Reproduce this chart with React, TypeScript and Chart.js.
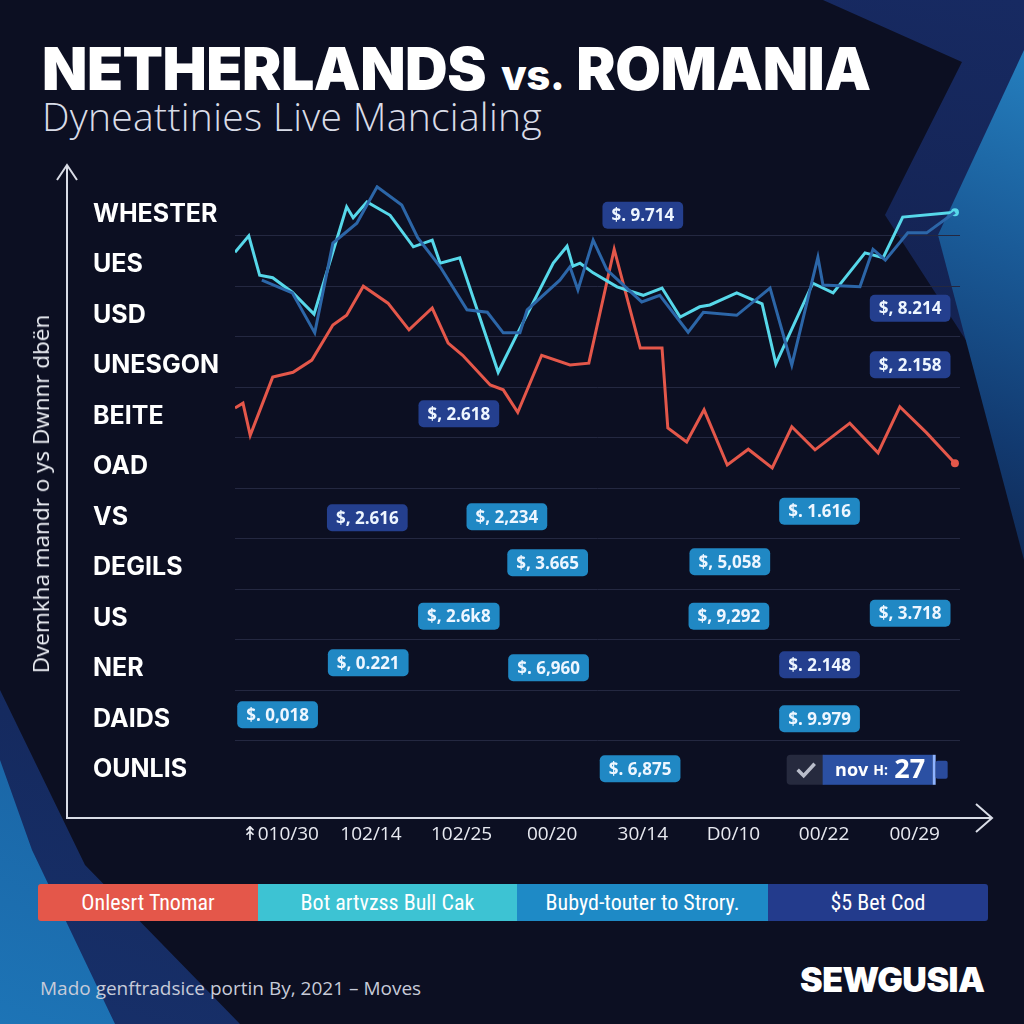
import React, { useEffect, useRef } from "react";
import { Chart, registerables } from "chart.js";

Chart.register(...registerables);

// ---------- data ----------
const rowLabels = ["WHESTER", "UES", "USD", "UNESGON", "BEITE", "OAD", "VS", "DEGILS", "US", "NER", "DAIDS", "OUNLIS"];
const dateLabels = ["↟010/30", "102/14", "102/25", "00/20", "30/14", "D0/10", "00/22", "00/29"];

const cyanX = [0, 1.9, 3.4, 5.2, 7.9, 10.9, 15.4, 16.3, 18.2, 21.4, 24.6, 27.2, 28.3, 31.0, 36.3, 39.0, 43.9, 45.8, 46.6, 47.6, 49.4, 52.7, 56.3, 58.9, 61.4, 64.1, 65.5, 69.2, 72.7, 74.6, 79.7, 82.5, 86.9, 89.4, 92.1, 99.3];
const cyanY = [88.9, 91.6, 85.1, 84.7, 82.3, 78.7, 96.4, 94.6, 97.2, 95.0, 89.8, 90.9, 87.1, 88.0, 69.1, 75.6, 87.1, 89.9, 86.6, 87.1, 85.5, 83.2, 81.8, 83.0, 78.2, 79.9, 80.2, 82.2, 80.4, 70.5, 83.8, 82.2, 88.8, 88.0, 94.7, 95.5];

const steelX = [3.7, 7.9, 11.0, 13.5, 16.8, 19.6, 23.0, 25.2, 28.3, 32.0, 34.8, 37.0, 39.3, 40.3, 44.8, 46.2, 47.3, 49.4, 51.3, 56.1, 58.6, 62.5, 64.6, 69.2, 73.8, 76.8, 80.4, 81.1, 86.2, 88.0, 89.7, 92.8, 95.4, 99.3];
const steelY = [84.3, 82.2, 75.6, 90.4, 93.7, 99.7, 96.7, 91.3, 86.5, 79.4, 79.0, 75.6, 75.6, 79.4, 84.3, 86.5, 82.7, 90.9, 86.0, 80.7, 81.8, 75.7, 79.0, 78.5, 83.0, 70.3, 88.1, 83.5, 83.2, 89.4, 87.6, 92.1, 92.1, 95.5];

const redX = [0, 1.1, 2.1, 5.2, 8.0, 10.6, 13.5, 15.4, 17.7, 21.1, 24.0, 27.2, 29.4, 31.4, 35.2, 37.0, 39.0, 42.3, 46.2, 48.8, 52.3, 55.9, 58.9, 59.7, 62.3, 64.7, 67.9, 70.8, 74.1, 76.8, 80.0, 84.8, 88.7, 91.7, 95.4, 99.3];
const redY = [63.2, 64.0, 58.7, 68.3, 69.1, 71.1, 76.9, 78.5, 83.3, 80.5, 76.1, 79.7, 73.9, 71.9, 67.0, 66.2, 62.5, 71.9, 70.3, 70.6, 89.4, 73.1, 73.1, 59.9, 57.6, 62.9, 53.8, 56.4, 53.3, 60.1, 56.3, 60.7, 55.8, 63.4, 59.1, 54.1];

const badgeTexts = ["$. 9.714", "$, 8.214", "$, 2.158", "$, 2.618", "$, 2.616", "$, 2,234", "$, 3.665", "$, 2.6k8", "$, 0.221", "$. 6,960", "$. 0,018", "$. 1.616", "$, 5,058", "$, 9,292", "$, 3.718", "$. 2.148", "$. 9.979", "$. 6,875"];
const badgeCols = [4, 6.95, 6.95, 1.97, 0.96, 2.5, 2.95, 1.97, 0.97, 2.96, -0.03, 5.95, 4.96, 4.95, 6.95, 5.95, 5.95, 3.97];
const badgeRows = [0.1, 1.94, 3.06, 4.03, 6.09, 6.07, 6.98, 8.04, 8.96, 9.06, 9.99, 5.96, 6.96, 8.04, 7.98, 9.0, 10.07, 11.06];
const badgeDark = [true, true, true, true, true, false, false, false, false, false, false, false, false, false, false, true, false, false];

const novText = ["nov", "H:", "27"];
const novCol = 6.47;
const novRow = 11.08;

const legendItems = ["Onlesrt Tnomar", "Bot artvzss Bull Cak", "Bubyd-touter to Strory.", "$5 Bet Cod"];
const legendColors = ["#e4574a", "#3dc3d3", "#1e8ac6", "#233b8c"];
const legendWidths = [220, 259, 251, 220];

// ---------- plugins ----------
const badgePlugin = {
  id: "badges",
  afterDatasetsDraw(chart: any) {
    const ctx = chart.ctx;
    const xs = chart.scales.xc;
    const ys = chart.scales.yc;
    ctx.save();
    ctx.font = "700 17px 'Open Sans', sans-serif";
    ctx.textAlign = "center";
    ctx.textBaseline = "middle";
    badgeTexts.forEach((t, i) => {
      const cx = xs.getPixelForValue(badgeCols[i]);
      const cy = ys.getPixelForValue(badgeRows[i]);
      const w = Math.max(78, ctx.measureText(t).width + 18);
      const h = 27;
      ctx.fillStyle = badgeDark[i] ? "#243f8e" : "#2088c4";
      ctx.beginPath();
      ctx.roundRect(cx - w / 2, cy - h / 2, w, h, 5);
      ctx.fill();
      ctx.fillStyle = "#eef6ff";
      ctx.fillText(t, cx, cy + 1);
    });
    // nov badge
    const ncx = xs.getPixelForValue(novCol);
    const ncy = ys.getPixelForValue(novRow);
    const left = ncx - 80;
    const top = ncy - 15;
    const h = 30;
    ctx.fillStyle = "#262a3e";
    ctx.beginPath();
    ctx.roundRect(left, top, 40, h, 4);
    ctx.fill();
    ctx.fillStyle = "#2b50a3";
    ctx.fillRect(left + 36, top, 110, h);
    ctx.fillStyle = "#8fb4ff";
    ctx.fillRect(left + 146, top, 3, h);
    ctx.fillStyle = "#2a4b9c";
    ctx.beginPath();
    ctx.roundRect(left + 149, top + 6, 12, 18, 2);
    ctx.fill();
    ctx.strokeStyle = "#b9bdca";
    ctx.lineWidth = 3.5;
    ctx.beginPath();
    ctx.moveTo(left + 11, ncy);
    ctx.lineTo(left + 17, ncy + 6);
    ctx.lineTo(left + 28, ncy - 6);
    ctx.stroke();
    ctx.fillStyle = "#ffffff";
    ctx.font = "700 18px 'Open Sans', sans-serif";
    ctx.fillText(novText[0], left + 65, ncy + 1);
    ctx.font = "700 14px 'Open Sans', sans-serif";
    ctx.fillText(novText[1], left + 94, ncy + 1);
    ctx.font = "700 27px 'Open Sans', sans-serif";
    ctx.fillText(novText[2], left + 123, ncy + 1);
    ctx.restore();
  },
};

const arrowPlugin = {
  id: "arrows",
  afterDraw(chart: any) {
    const { ctx, chartArea } = chart;
    const ax = chartArea.left - 168;
    const topY = chartArea.top - 20;
    const botY = chartArea.bottom + 27;
    const rightX = chartArea.right + 32;
    ctx.save();
    ctx.strokeStyle = "#d9dce6";
    ctx.lineWidth = 2;
    ctx.beginPath();
    ctx.moveTo(ax, topY);
    ctx.lineTo(ax, botY);
    ctx.lineTo(rightX, botY);
    ctx.stroke();
    ctx.beginPath();
    ctx.moveTo(ax - 10, topY + 15);
    ctx.lineTo(ax, topY);
    ctx.lineTo(ax + 10, topY + 15);
    ctx.stroke();
    ctx.beginPath();
    ctx.moveTo(rightX - 16, botY - 14);
    ctx.lineTo(rightX, botY);
    ctx.lineTo(rightX - 16, botY + 14);
    ctx.stroke();
    ctx.restore();
  },
};

const toPts = (xs: number[], ys: number[]) => xs.map((x, i) => ({ x, y: ys[i] }));
const lastDot = (n: number) => (c: any) => (c.dataIndex === n - 1 ? 4 : 0);

export default function App() {
  const ref = useRef<HTMLCanvasElement>(null);

  useEffect(() => {
    const chart = new Chart(ref.current as HTMLCanvasElement, {
      type: "line",
      data: {
        datasets: [
          {
            data: toPts(steelX, steelY),
            borderColor: "#2c66a8",
            borderWidth: 3,
            pointRadius: 0,
            tension: 0,
          },
          {
            data: toPts(cyanX, cyanY),
            borderColor: "#57d8ea",
            backgroundColor: "#57d8ea",
            borderWidth: 3,
            pointRadius: lastDot(cyanX.length),
            pointBorderWidth: 0,
            tension: 0,
          },
          {
            data: toPts(redX, redY),
            borderColor: "#e4574a",
            backgroundColor: "#e4574a",
            borderWidth: 3,
            pointRadius: lastDot(redX.length),
            pointBorderWidth: 0,
            tension: 0,
          },
        ],
      } as any,
      options: {
        animation: false,
        responsive: false,
        maintainAspectRatio: false,
        layout: { padding: { left: 93, right: 64, top: 35, bottom: 0 } },
        plugins: { legend: { display: false }, tooltip: { enabled: false } },
        scales: {
          x: { type: "linear", min: 0, max: 100, display: false },
          y: { type: "linear", min: 0, max: 100, display: false },
          xc: {
            type: "category",
            labels: dateLabels,
            position: "bottom",
            offset: true,
            grid: { display: false, drawTicks: false },
            border: { display: false },
            ticks: {
              color: "#e8eaf1",
              font: { family: "'Open Sans', sans-serif", size: 19, weight: "500" },
              padding: 32,
              autoSkip: false,
              maxRotation: 0,
            },
            afterFit: (s: any) => {
              s.height = 80;
            },
          },
          yc: {
            type: "category",
            labels: rowLabels,
            position: "left",
            offset: true,
            grid: {
              offset: true,
              drawTicks: false,
              lineWidth: 1,
              color: (c: any) => (c.type === "tick" && c.index > 0 ? "#242841" : "rgba(0,0,0,0)"),
            },
            border: { display: false },
            ticks: {
              color: "#ffffff",
              crossAlign: "far",
              font: { family: "Inter, sans-serif", size: 25, weight: "700" },
              autoSkip: false,
              padding: 0,
              labelOffset: 4,
            },
            afterFit: (s: any) => {
              s.width = 142;
            },
          },
        },
      } as any,
      plugins: [badgePlugin, arrowPlugin],
    });
    return () => chart.destroy();
  }, []);

  const abs: React.CSSProperties = { position: "absolute" };
  const full: React.CSSProperties = { position: "absolute", left: 0, top: 0, width: 1024, height: 1024 };

  return (
    <div
      style={{
        position: "fixed",
        left: 0,
        top: 0,
        width: 1024,
        height: 1024,
        background: "#0c0f22",
        overflow: "hidden",
        fontFamily: "'Open Sans', sans-serif",
      }}
    >
      {/* decorative shapes */}
      <div
        style={{
          ...full,
          clipPath: "polygon(823px 0, 1024px 0, 1024px 430px, 885px 215px, 962px 62px)",
          background: "linear-gradient(190deg, #172a62 0%, #13214e 35%, #0e1430 60%, #0c0f22 80%)",
        }}
      />
      <div
        style={{
          ...full,
          clipPath: "polygon(1024px 50px, 1024px 560px, 938px 235px)",
          background: "linear-gradient(200deg, #2788c8 0%, #1a5b98 18%, #123a70 32%, #0e1f45 46%, #0c0f22 58%)",
        }}
      />
      <div
        style={{
          ...full,
          clipPath: "polygon(0 690px, 0 1024px, 240px 1024px, 85px 865px)",
          background: "linear-gradient(20deg, #17306a 0%, #132454 45%, #0d1228 85%)",
        }}
      />
      <div
        style={{
          ...full,
          clipPath: "polygon(0 760px, 0 1024px, 115px 1024px, 32px 850px)",
          background: "linear-gradient(20deg, #1d74b6 0%, #185593 45%, #112c5c 85%)",
        }}
      />

      {/* title */}
      <div
        style={{
          ...abs,
          left: 42,
          top: 39,
          whiteSpace: "nowrap",
          color: "#ffffff",
          fontFamily: "Inter, sans-serif",
          fontWeight: 900,
          fontSize: 59,
          lineHeight: "59px",
          letterSpacing: -0.5,
        }}
      >
        NETHERLANDS<span style={{ fontSize: 42, fontWeight: 800, margin: "0 12px 0 15px" }}>vs.</span>ROMANIA
      </div>
      <div
        style={{
          ...abs,
          left: 42,
          top: 97,
          whiteSpace: "nowrap",
          color: "#d9dce7",
          fontWeight: 300,
          fontSize: 39,
          lineHeight: "38px",
          letterSpacing: 0.3,
        }}
      >
        Dyneattinies Live Mancialing
      </div>

      <canvas
        ref={ref}
        width={1024}
        height={721}
        style={{ ...abs, left: 0, top: 150, width: 1024, height: 721 }}
      />

      {/* y axis title */}
      <div
        style={{
          ...abs,
          left: 41,
          top: 494,
          transform: "translate(-50%, -50%) rotate(-90deg)",
          whiteSpace: "nowrap",
          color: "#eef0f6",
          fontSize: 22.5,
          lineHeight: "26px",
        }}
      >
        Dvemkha mandr o ys Dwnnr dbën
      </div>

      {/* legend bar */}
      <div
        style={{
          ...abs,
          left: 38,
          top: 884,
          height: 37,
          display: "flex",
          borderRadius: 3,
          overflow: "hidden",
        }}
      >
        {legendItems.map((t, i) => (
          <div
            key={t}
            style={{
              width: legendWidths[i],
              height: 37,
              background: legendColors[i],
              color: "#ffffff",
              display: "flex",
              alignItems: "center",
              justifyContent: "center",
              fontFamily: "'Roboto Condensed', 'Liberation Sans Narrow', Roboto, sans-serif",
              fontSize: 22,
              fontWeight: 400,
              whiteSpace: "nowrap",
            }}
          >
            {t}
          </div>
        ))}
      </div>

      {/* footer */}
      <div
        style={{
          ...abs,
          left: 40,
          top: 975,
          whiteSpace: "nowrap",
          color: "#c7cbd9",
          fontSize: 19,
          lineHeight: "26px",
        }}
      >
        Mado genftradsice portin By, 2021 – Moves
      </div>
      <div
        style={{
          ...abs,
          left: 800,
          top: 963,
          whiteSpace: "nowrap",
          color: "#ffffff",
          fontFamily: "Inter, sans-serif",
          fontWeight: 900,
          fontSize: 34,
          lineHeight: "34px",
          letterSpacing: -0.5,
        }}
      >
        SEWGUSIA
      </div>
    </div>
  );
}
